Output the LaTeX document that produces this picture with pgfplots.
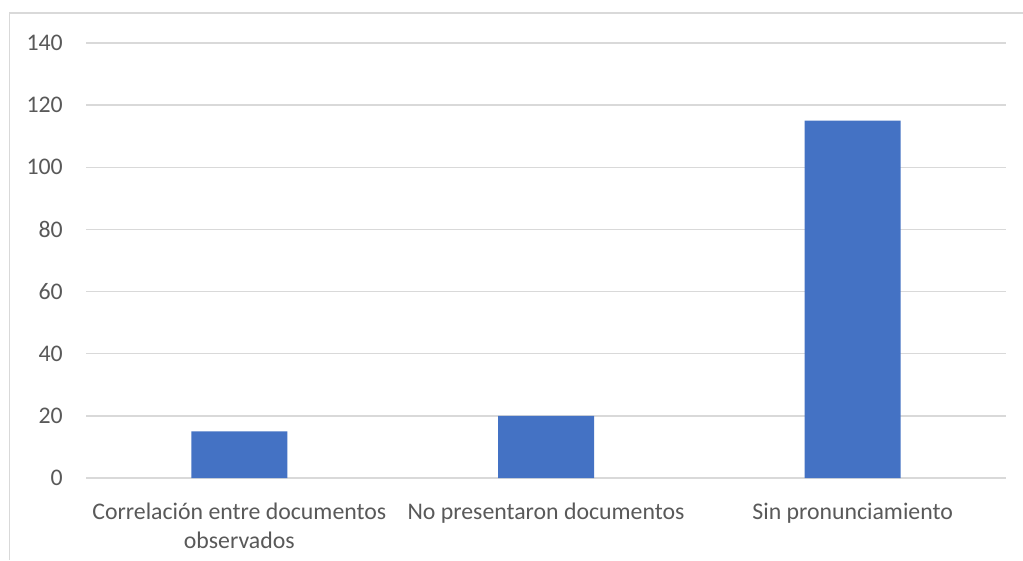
\documentclass[border=0pt]{standalone}
\usepackage{pgfplots}
\pgfplotsset{compat=1.18}
\usepackage{fontspec}
\setmainfont{Carlito}
\definecolor{barblue}{HTML}{4472C4}
\definecolor{gridgray}{HTML}{D9D9D9}
\definecolor{txtgray}{HTML}{595959}
\begin{document}
\begin{tikzpicture}
\useasboundingbox (0,0) rectangle (1023pt,560pt);
\fill[white] (0,0) rectangle (1023pt,560pt);
\draw[gridgray, line width=1.3pt] (9.5pt,0) -- (9.5pt,547pt) -- (1023pt,547pt);
\begin{axis}[
  at={(86pt,82pt)}, anchor=south west,
  scale only axis, width=920pt, height=435pt,
  xmin=-0.5, xmax=2.5, ymin=0, ymax=140,
  ytick={0,20,...,140},
  xtick={0,1,2},
  xticklabels={{\strut Correlación entre documentos\\observados},{\strut No presentaron documentos},{\strut Sin pronunciamiento}},
  ybar, bar width=96pt,
  axis line style={draw=none},
  major tick length=0pt,
  ymajorgrids, grid style={gridgray, line width=1.3pt},
  /pgf/number format/assume math mode=true,
  tick label style={font=\fontsize{23.8}{28.5}\selectfont, text=txtgray},
  yticklabel style={inner sep=0pt, xshift=-23pt},
  xticklabel style={inner sep=0pt, align=center, anchor=north, yshift=-21.5pt},
]
\addplot[fill=barblue, draw=none] coordinates {(0,15) (1,20) (2,115)};
\end{axis}
\end{tikzpicture}
\end{document}
